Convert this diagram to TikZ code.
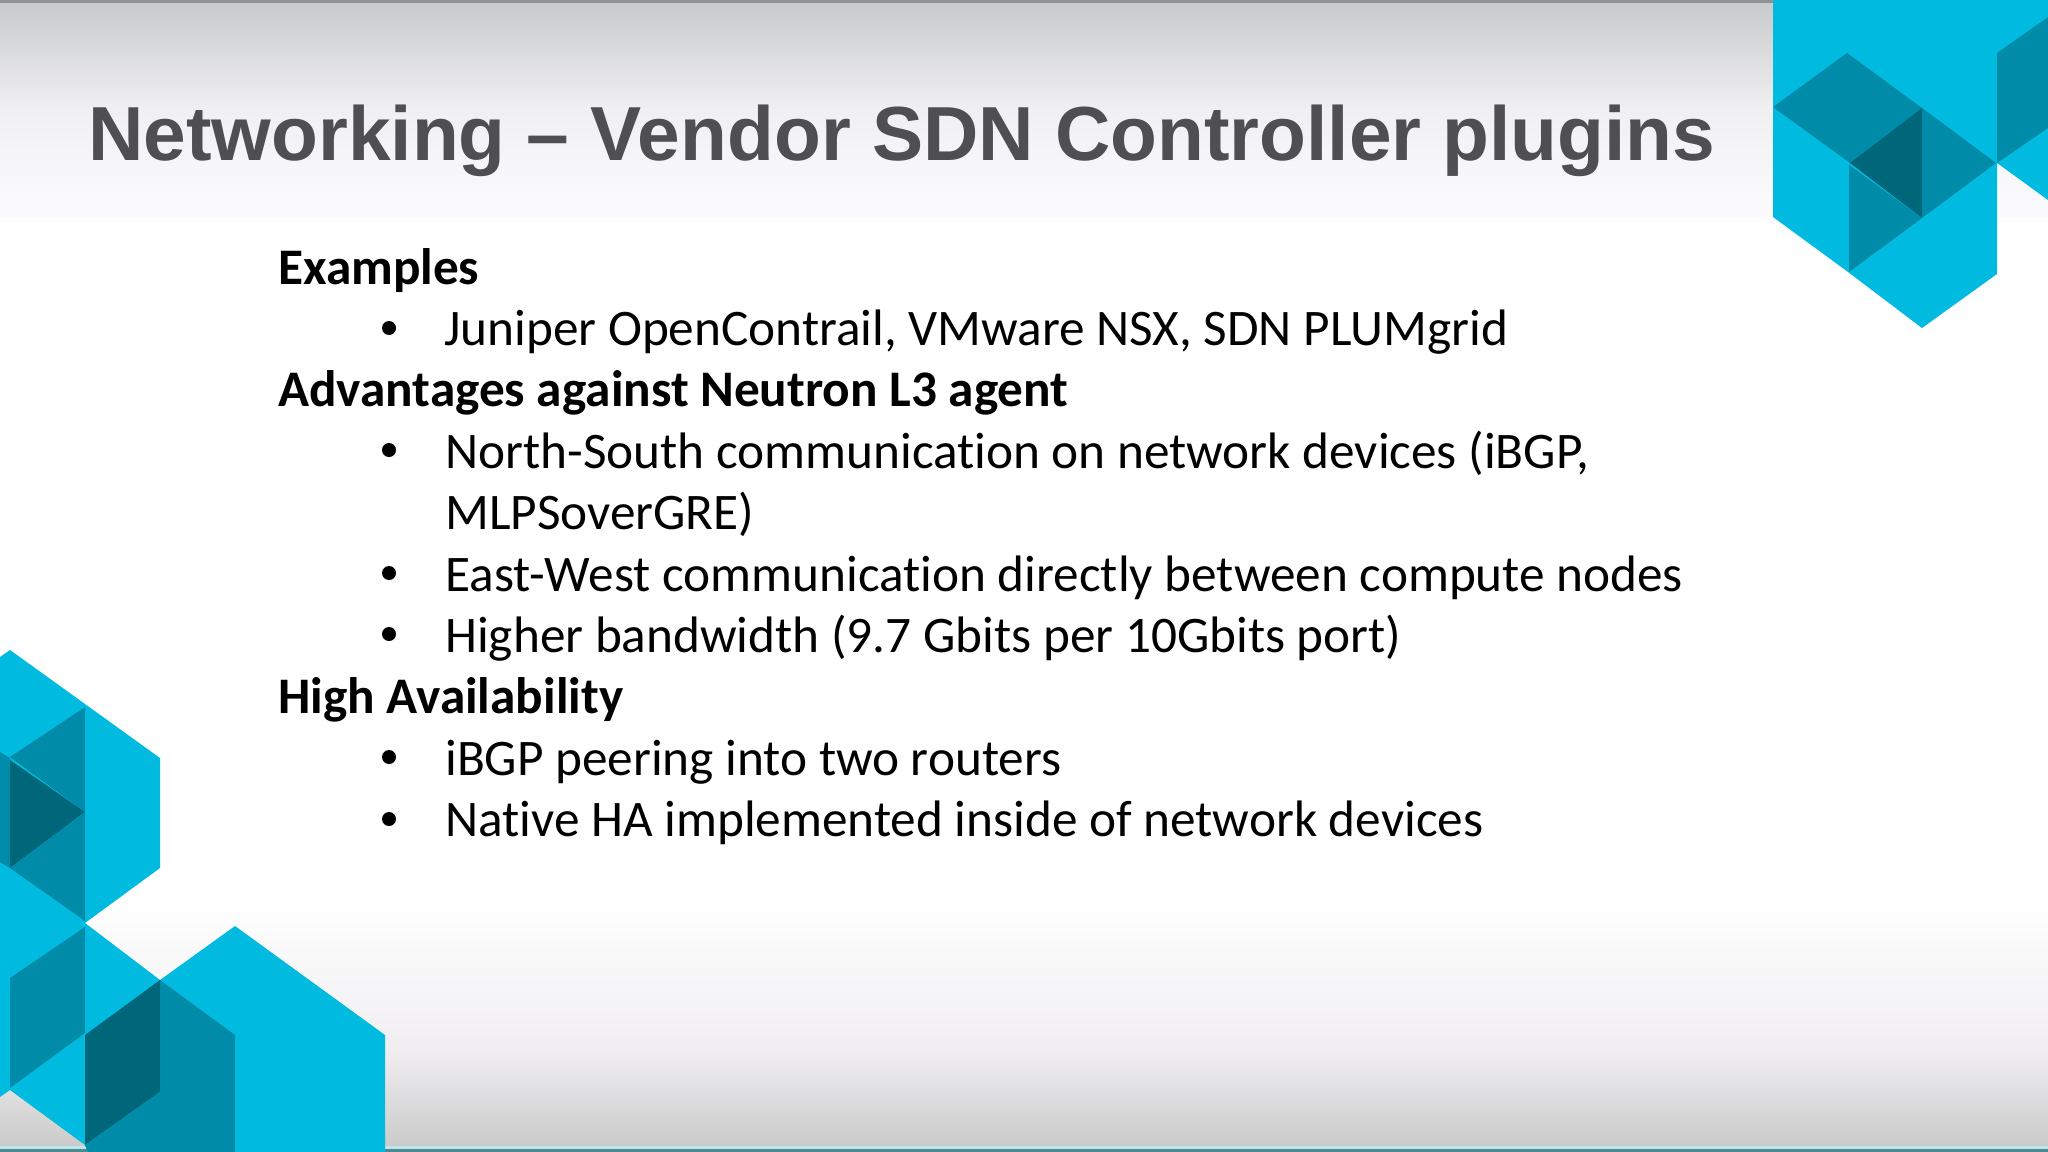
\documentclass[tikz,border=0pt]{standalone}
\usepackage{fontspec}
\setmainfont[Ligatures=CommonOff]{Carlito}
\newfontfamily\titlefont{Liberation Sans}
\definecolor{hexlight}{HTML}{00BBDF}
\definecolor{hexmid}{HTML}{008BA8}
\definecolor{hexdark}{HTML}{00667A}
\definecolor{titlegray}{HTML}{4F4E52}
\definecolor{bandgray}{HTML}{C8C9CC}
\definecolor{bandupper}{HTML}{F0F0F2}
\definecolor{bandmid}{HTML}{F0EEF1}
\definecolor{bandlow}{HTML}{CBCBCB}
\definecolor{bandend}{HTML}{FDFDFF}
\definecolor{linetop}{HTML}{8F9194}
\definecolor{linelight}{HTML}{BCE6EE}
\definecolor{linedeep}{HTML}{4F8A90}
\tikzset{
  light/.style={fill=hexlight,draw=none},
  mid/.style={fill=hexmid,draw=none},
  deep/.style={fill=hexdark,draw=none},
  head/.style={anchor=base west,inner sep=0pt,font=\fontsize{38.45}{44}\selectfont\bfseries,text=black},
  item/.style={anchor=base west,inner sep=0pt,font=\fontsize{38.45}{44}\selectfont,text=black},
  bul/.style={circle,fill=black,draw=none,inner sep=0pt,minimum size=10.5pt},
}
\begin{document}
\begin{tikzpicture}[x=0.75pt,y=-0.75pt]
\useasboundingbox (0,0) rectangle (2048,1152);
\fill[white] (0,0) rectangle (2048,1152);
\shade[top color=bandgray,bottom color=bandupper] (0,0) rectangle (2048,110);
\shade[top color=bandupper,bottom color=bandend] (0,110) rectangle (2048,222);
\shade[top color=white,bottom color=bandmid] (0,900) rectangle (2048,1050);
\shade[top color=bandmid,bottom color=bandlow] (0,1050) rectangle (2048,1146);
\fill[linetop] (0,0) rectangle (2048,3);
\fill[linelight] (0,1146) rectangle (2048,1149);
\fill[linedeep] (0,1149) rectangle (2048,1152);
% top right
\fill[light] (1773,0) -- (2048,0) -- (2048,200) -- (1997,163) -- (1997,274) -- (1922,328) -- (1848,272) -- (1773,217) -- cycle;
\fill[mid] (1997,53) -- (2048,17) -- (2048,128) -- (1997,163) -- cycle;
\fill[mid] (1773,107) -- (1847,53) -- (1922,108) -- (1850,163) -- cycle;
\fill[deep] (1922,108) -- (1850,163) -- (1922,218) -- cycle;
\fill[mid] (1922,108) -- (1996,163) -- (1922,218) -- cycle;
\fill[mid] (1849,165) -- (1922,218) -- (1849,272) -- cycle;
% bottom left
\fill[light] (0,657) -- (10,650) -- (160,758) -- (160,868) -- (85,923) -- (160,980) -- (235,926) -- (385,1035) -- (385,1152) -- (88,1152) -- (85,1145) -- (10,1090) -- (0,1097) -- cycle;
\fill[mid] (85,707) -- (10,757) -- (85,812) -- cycle;
\fill[mid] (0,752) -- (10,758) -- (10,868) -- (0,862) -- cycle;
\fill[deep] (10,760) -- (85,812) -- (10,868) -- cycle;
\fill[mid] (85,812) -- (10,868) -- (85,921) -- cycle;
\fill[mid] (10,978) -- (85,927) -- (85,1033) -- (10,1088) -- cycle;
\fill[deep] (160,980) -- (160,1092) -- (85,1145) -- (85,1035) -- cycle;
\fill[mid] (160,980) -- (235,1035) -- (235,1152) -- (88,1152) -- (85,1145) -- (160,1092) -- cycle;
% text
\node[anchor=base west,inner sep=0pt,font=\fontsize{57.5}{68}\selectfont\titlefont\bfseries,text=titlegray] (title) at (88,161) {Networking – Vendor SDN Controller plugins};
\node[head] (h1) at (278,284) {Examples};
\node[bul] (b1) at (389,328) {};
\node[item] (t1) at (444,345) {Juniper OpenContrail, VMware NSX, SDN PLUMgrid};
\node[head] (h2) at (278,406) {Advantages against Neutron L3 agent};
\node[bul] (b2) at (389,450) {};
\node[item] (t2) at (445,468) {North-South communication on network devices (iBGP,};
\node[item] (t2b) at (445,529) {MLPSoverGRE)};
\node[bul] (b3) at (389,573) {};
\node[item] (t3) at (445,591) {East-West communication directly between compute nodes};
\node[bul] (b4) at (389,634) {};
\node[item] (t4) at (445,652) {Higher bandwidth (9.7 Gbits per 10Gbits port)};
\node[head] (h3) at (278,713) {High Availability};
\node[bul] (b5) at (389,757) {};
\node[item] (t5) at (445,775) {iBGP peering into two routers};
\node[bul] (b6) at (389,819) {};
\node[item] (t6) at (445,836) {Native HA implemented inside of network devices};
\end{tikzpicture}
\end{document}
